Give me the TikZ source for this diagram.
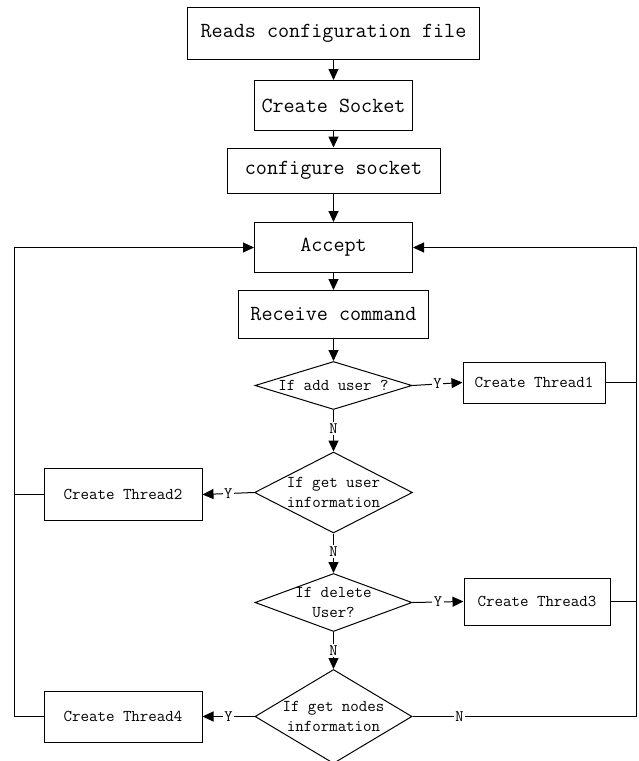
\documentclass[tikz,border=0pt]{standalone}
\usepackage{fontspec}
\usetikzlibrary{shapes.geometric,arrows.meta}

\tikzset{
  x=1pt, y=-1pt,
  flow/.style={line width=1pt, line join=miter},
  arr/.style={flow, -{Triangle[length=11pt,width=10pt]}},
  bigbox/.style={draw, line width=1pt, rectangle, inner sep=0pt,
                 font=\fontsize{21.5}{24}\selectfont\ttfamily},
  smallbox/.style={draw, line width=1pt, rectangle, inner sep=0pt,
                   font=\fontsize{16.5}{20}\selectfont\ttfamily},
  decision/.style={draw, line width=1pt, diamond, inner sep=0pt},
  dtext/.style={align=center, inner sep=0pt,
                font=\fontsize{16.5}{20}\selectfont\ttfamily},
  lbl/.style={fill=white, inner sep=1.5pt,
              font=\fontsize{16}{18}\selectfont\ttfamily}
}

\begin{document}
\begin{tikzpicture}
\useasboundingbox (0,0) rectangle (639,761);
\clip (0,0) rectangle (639,761);
\fill[white] (0,0) rectangle (639,761);

% main column
\node[bigbox, minimum width=292pt, minimum height=52pt] (cfg) at (333.5,33.5) {Reads configuration file};
\node[bigbox, minimum width=158pt, minimum height=50pt] (sock) at (333.5,105.5) {Create Socket};
\node[bigbox, minimum width=213pt, minimum height=45pt] (conf) at (333.5,170.5) {configure socket};
\node[bigbox, minimum width=158pt, minimum height=50pt] (acc) at (333.5,247.5) {Accept};
\node[bigbox, minimum width=190pt, minimum height=48pt] (recv) at (333.5,314.5) {Receive command};

% decisions
\node[decision, minimum width=157pt, minimum height=48pt] (d1) at (333.5,385.5) {};
\node[dtext] (d1t) at (d1) {If add user ?};
\node[decision, minimum width=158pt, minimum height=81pt] (d2) at (333.5,492.5) {};
\node[dtext] (d2t) at (d2) {If get user\\information};
\node[decision, minimum width=157pt, minimum height=58pt] (d3) at (333.5,602.5) {};
\node[dtext] (d3t) at (d3) {If delete\\User?};
\node[decision, minimum width=157pt, minimum height=94pt] (d4) at (333.5,716.5) {};
\node[dtext] (d4t) at (d4) {If get nodes\\information};

% worker threads
\node[smallbox, minimum width=142pt, minimum height=41pt] (t1) at (534,382.5) {Create Thread1};
\node[smallbox, minimum width=158pt, minimum height=52pt] (t2) at (123,494.5) {Create Thread2};
\node[smallbox, minimum width=146pt, minimum height=47pt] (t3) at (537,601.5) {Create Thread3};
\node[smallbox, minimum width=158pt, minimum height=51pt] (t4) at (123,716.5) {Create Thread4};

% return rails
\coordinate (rt) at (636.5,247.5);
\coordinate (rb) at (636.5,716.5);
\coordinate (lt) at (14.5,247.5);
\coordinate (lb) at (14.5,716.5);

% straight flow
\draw[arr] (cfg) -- (sock);
\draw[arr] (sock) -- (conf);
\draw[arr] (conf) -- (acc);
\draw[arr] (acc) -- (recv);
\draw[arr] (recv) -- (d1);
\draw[arr] (d1.south) -- node[lbl, pos=0.44] {N} (d2.north);
\draw[arr] (d2.south) -- node[lbl, pos=0.45] {N} (d3.north);
\draw[arr] (d3.south) -- node[lbl, pos=0.5] {N} (d4.north);

% yes branches
\draw[arr] (d1.east) -- node[lbl] {Y} (t1.west);
\draw[arr] (d2.west) -- node[lbl] {Y} (t2.east);
\draw[arr] (d3.east) -- node[lbl] {Y} (t3.west);
\draw[arr] (d4.west) -- node[lbl] {Y} (t4.east);

% back to Accept
\draw[arr] (d4.east) -- node[lbl, pos=0.21] {N} (rb) -- (rt) -- (acc.east);
\draw[flow] (t1.east) -- (t1.east -| rt);
\draw[flow] (t3.east) -- (t3.east -| rt);
\draw[arr] (t4.west) -- (lb) -- (lt) -- (acc.west);
\draw[flow] (t2.west) -- (t2.west -| lt);
\end{tikzpicture}
\end{document}
